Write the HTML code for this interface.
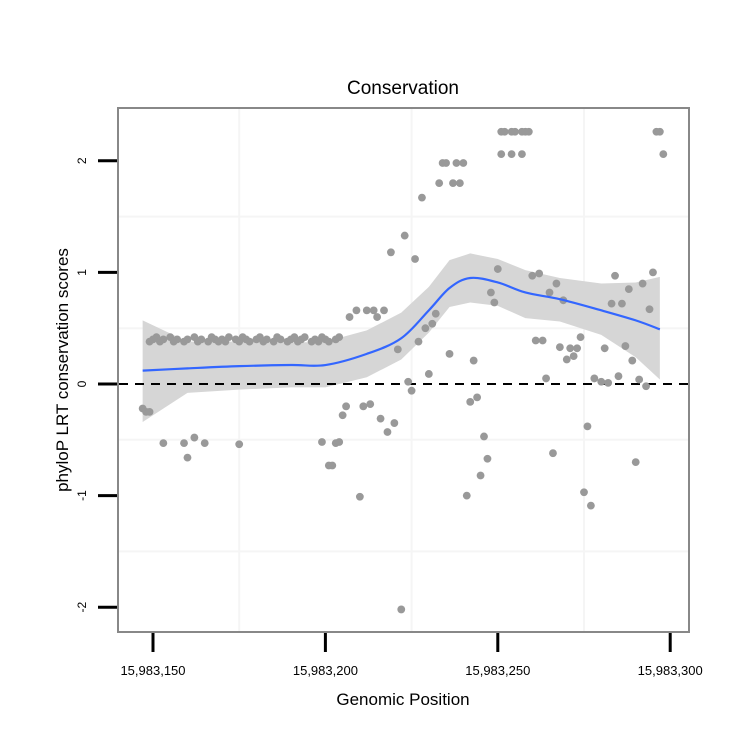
<!DOCTYPE html>
<html><head><meta charset="utf-8"><style>
body{margin:0;background:#fff;}
svg{display:block;font-family:"Liberation Sans",Arial,sans-serif;}
</style></head><body>
<svg id="chart" width="750" height="750">
<rect width="750" height="750" fill="#fff"/>
<g id="grid"></g>
<g id="band"></g>
<line id="zero" stroke="#000" stroke-width="2" stroke-dasharray="9,7"/>
<g id="points"></g>
<g id="fit"></g>
<rect x="118" y="108" width="571" height="524" fill="none" stroke="#888" stroke-width="2"/>
<g id="axes"></g>
<text x="403" y="94" text-anchor="middle" font-size="19">Conservation</text>
<text x="403" y="705" text-anchor="middle" font-size="17">Genomic Position</text>
<text transform="translate(68,370) rotate(-90)" text-anchor="middle" font-size="17">phyloP LRT conservation scores</text>
</svg>
<script>
const BASE = 15983000;
const xPos = [147,148,149,153,159,162,165,160,175,199,203,201,202,
149,150,151,152,153,155,156,157,159,160,162,163,164,166,167,168,169,170,171,172,174,175,176,177,178,180,181,182,183,185,186,187,189,190,191,192,193,194,196,197,198,199,200,201,203,204,
207,209,212,214,215,217,219,223,226,228,233,234,235,238,240,237,239,
221,227,229,231,232,236,243,230,224,225,250,248,249,242,244,
206,205,211,213,216,218,220,204,210,246,247,245,241,222,
251,252,254,255,257,258,259,251,254,257,296,297,298,
260,262,267,265,269,284,283,286,288,292,295,294,
261,263,268,271,273,274,272,270,281,287,289,
264,278,280,282,285,291,293,276,266,290,275,277];
const yVal = [-0.22,-0.25,-0.25,-0.53,-0.53,-0.48,-0.53,-0.66,-0.54,-0.52,-0.53,-0.73,-0.73,
0.38,0.40,0.42,0.38,0.40,0.42,0.38,0.40,0.38,0.40,0.42,0.38,0.40,0.38,0.42,0.40,0.38,0.40,0.38,0.42,0.40,0.38,0.42,0.40,0.38,0.40,0.42,0.38,0.40,0.38,0.42,0.40,0.38,0.40,0.42,0.38,0.40,0.42,0.38,0.40,0.38,0.42,0.40,0.38,0.40,0.42,
0.60,0.66,0.66,0.66,0.60,0.66,1.18,1.33,1.12,1.67,1.80,1.98,1.98,1.98,1.98,1.80,1.80,
0.31,0.38,0.50,0.54,0.63,0.27,0.21,0.09,0.02,-0.06,1.03,0.82,0.73,-0.16,-0.12,
-0.20,-0.28,-0.20,-0.18,-0.31,-0.43,-0.35,-0.52,-1.01,-0.47,-0.67,-0.82,-1.00,-2.02,
2.26,2.26,2.26,2.26,2.26,2.26,2.26,2.06,2.06,2.06,2.26,2.26,2.06,
0.97,0.99,0.90,0.82,0.75,0.97,0.72,0.72,0.85,0.90,1.00,0.67,
0.39,0.39,0.33,0.32,0.32,0.42,0.25,0.22,0.32,0.34,0.21,
0.05,0.05,0.02,0.01,0.07,0.04,-0.02,-0.38,-0.62,-0.70,-0.97,-1.09];
const fitX = [147,160,175,190,200,212,222,230,236,242,250,258,268,280,290,297];
const fitY = [0.12,0.14,0.16,0.17,0.17,0.27,0.41,0.66,0.86,0.95,0.91,0.82,0.76,0.66,0.57,0.49];
const fitLo = [-0.34,-0.08,-0.05,-0.03,-0.03,0.06,0.22,0.46,0.69,0.73,0.70,0.59,0.56,0.44,0.24,0.04];
const fitHi = [0.57,0.38,0.38,0.37,0.38,0.48,0.64,0.87,1.11,1.17,1.12,1.02,0.95,0.90,0.91,0.96];
const yTicks = [-2,-1,0,1,2];
const yTickLabels = ["-2","-1","0","1","2"];
const xTicks = [150,200,250,300];
const xTickLabels = ["15,983,150","15,983,200","15,983,250","15,983,300"];
const yGrid = [-1.5,-0.5,0.5,1.5];
const xGrid = [175,225,275];

const NS="http://www.w3.org/2000/svg";
function X(v){return 153+(v-150)*3.448;}
function Y(v){return 384-v*111.6;}
function mk(tag,attrs,parent){const e=document.createElementNS(NS,tag);for(const k in attrs)e.setAttribute(k,attrs[k]);parent.appendChild(e);return e;}
const grid=document.getElementById('grid');
yGrid.forEach(v=>{const l=mk('line',{x1:119,x2:688,y1:Y(v),y2:Y(v),stroke:'#f5f5f5','stroke-width':2},grid);

});
xGrid.forEach(v=>{const l=mk('line',{x1:X(v),x2:X(v),y1:109,y2:631,stroke:'#f5f5f5','stroke-width':2},grid);

});
let d='M'+fitX.map((x,i)=>X(x)+','+Y(fitHi[i])).join(' L');
for(let i=fitX.length-1;i>=0;i--)d+=' L'+X(fitX[i])+','+Y(fitLo[i]);
const bp=mk('path',{d:d+'Z',fill:'#d6d6d6'},document.getElementById('band'));


const z=document.getElementById('zero');
z.setAttribute('x1',119);z.setAttribute('x2',688);z.setAttribute('y1',Y(0));z.setAttribute('y2',Y(0));
const pts=document.getElementById('points');
xPos.forEach((x,i)=>{const c=mk('circle',{cx:X(x),cy:Y(yVal[i]),r:3.9,fill:'#999'},pts);

});
const P=fitX.map((x,i)=>[X(x),Y(fitY[i])]);
let ld='M'+P[0][0]+','+P[0][1];
for(let i=0;i<P.length-1;i++){const p0=P[Math.max(0,i-1)],p1=P[i],p2=P[i+1],p3=P[Math.min(P.length-1,i+2)];
ld+=' C'+(p1[0]+(p2[0]-p0[0])/6)+','+(p1[1]+(p2[1]-p0[1])/6)+' '+(p2[0]-(p3[0]-p1[0])/6)+','+(p2[1]-(p3[1]-p1[1])/6)+' '+p2[0]+','+p2[1];}
const fl=mk('path',{d:ld,fill:'none',stroke:'#3366ff','stroke-width':2.2},document.getElementById('fit'));


const ax=document.getElementById('axes');
yTicks.forEach((v,i)=>{const t=mk('line',{x1:98,x2:117,y1:Y(v),y2:Y(v),stroke:'#000','stroke-width':3},ax);


const tx=mk('text',{transform:'translate(86,'+Y(v)+') rotate(-90)','text-anchor':'middle','font-size':12},ax);
tx.textContent=yTickLabels[i];

});
xTicks.forEach((v,i)=>{const t=mk('line',{x1:X(v),x2:X(v),y1:633,y2:652,stroke:'#000','stroke-width':3},ax);


const tx=mk('text',{x:X(v),y:675,'text-anchor':'middle','font-size':13},ax);
tx.textContent=xTickLabels[i];

});
</script>
</body></html>
